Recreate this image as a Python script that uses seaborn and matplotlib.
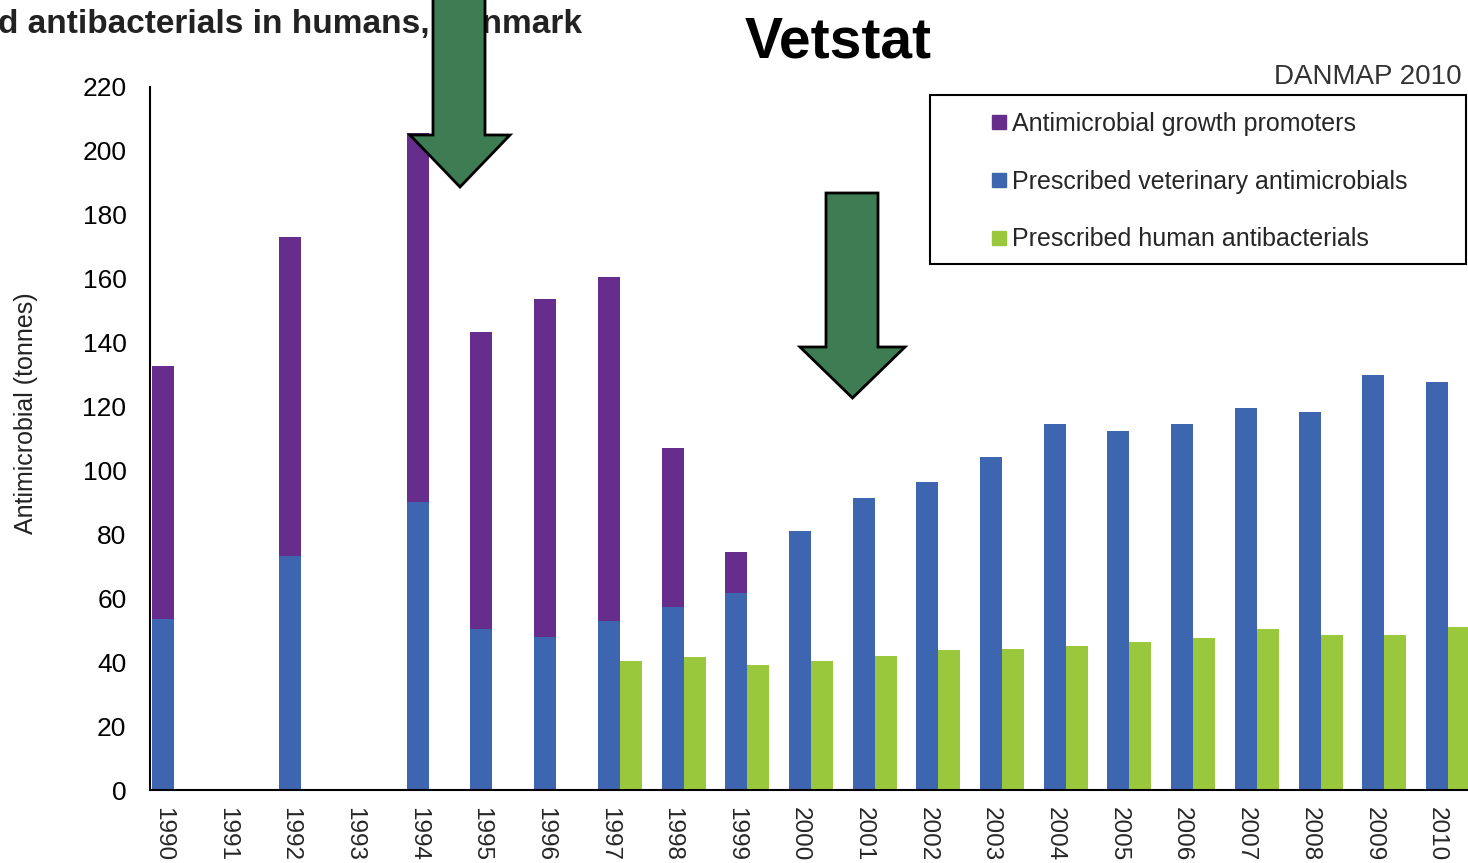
import numpy as np
import pandas as pd
import matplotlib
matplotlib.use("Agg")
import matplotlib.pyplot as plt
import seaborn as sns
from matplotlib.patches import Polygon, Rectangle
from matplotlib.lines import Line2D

# data (tonnes)
years = ["1990", "1991", "1992", "1993", "1994", "1995", "1996", "1997", "1998", "1999", "2000",
         "2001", "2002", "2003", "2004", "2005", "2006", "2007", "2008", "2009", "2010"]
nan = np.nan
vet_antimicrobials = [53.5, nan, 73.2, nan, 90.1, 50.4, 47.9, 52.9, 57.3, 61.7, 81.1,
                      91.4, 96.4, 104.2, 114.6, 112.4, 114.6, 119.6, 118.3, 129.9, 127.7]
growth_promoters = [79.2, nan, 99.8, nan, 115.5, 93.0, 105.8, 107.7, 49.7, 12.8, nan,
                    nan, nan, nan, nan, nan, nan, nan, nan, nan, nan]
human_antibacterials = [nan, nan, nan, nan, nan, nan, nan, 40.4, 41.6, 39.1, 40.4,
                        41.9, 43.8, 44.1, 45.1, 46.3, 47.6, 50.4, 48.5, 48.5, 51.0]

purple = "#662d8c"
blue = "#3e66b0"
green = "#9ac83c"
arrow_green = "#3e7c54"

sns.set_style("white")
plt.rcParams["font.family"] = ["Liberation Sans", "DejaVu Sans"]

W, H = 1468, 863
fig = plt.figure(figsize=(W / 100, H / 100), dpi=100)
ax = fig.add_axes([150 / W, 1 - 790 / H, 1318 / W, 703 / H])

vet = np.array(vet_antimicrobials)
agp = np.nan_to_num(np.array(growth_promoters))
total = vet + agp

# purple = vet + growth promoters, then blue vet drawn on top of it
df_total = pd.concat([
    pd.DataFrame({"year": years, "series": "vet", "value": total}),
    pd.DataFrame({"year": years, "series": "human", "value": human_antibacterials}),
], ignore_index=True)
df_vet = pd.concat([
    pd.DataFrame({"year": years, "series": "vet", "value": vet}),
    pd.DataFrame({"year": years, "series": "human", "value": human_antibacterials}),
], ignore_index=True)

common = dict(x="year", y="value", hue="series", hue_order=["vet", "human"], order=years,
              width=0.69, gap=0, dodge=True, saturation=1, legend=False,
              errorbar=None, linewidth=0, ax=ax)
sns.barplot(data=df_total, palette={"vet": purple, "human": green}, **common)
sns.barplot(data=df_vet, palette={"vet": blue, "human": green}, **common)

left = -0.376
ax.set_xlim(left, left + 1318 / 63.7)
ax.set_ylim(0, 220)
ax.set_yticks(range(0, 221, 20))
ax.tick_params(axis="y", labelsize=19, length=7, width=1.5, direction="out", colors="black", pad=10)

ax.set_xticks([i - 0.1725 for i in range(len(years))], years, rotation=270)
ax.set_xticks([left + k / 3 for k in range(63)], minor=True)
ax.tick_params(axis="x", which="major", length=0, labelsize=17.5, pad=12)
ax.tick_params(axis="x", which="minor", length=7, width=1.5, direction="out", color="black")
ax.set_xlabel("")
ax.set_ylabel("Antimicrobial (tonnes)", fontsize=18, color="#222222")
ax.yaxis.set_label_coords(-0.085, 0.536)

for side in ["top", "right"]:
    ax.spines[side].set_visible(False)
for side in ["left", "bottom"]:
    ax.spines[side].set_color("black")
    ax.spines[side].set_linewidth(1.5)

# header texts
fig.text(-2 / W, 1 - 33 / H, "d antibacterials in humans, Denmark", fontsize=24,
         fontweight="bold", color="#222222", ha="left", va="baseline", zorder=3)
fig.text(838 / W, 1 - 57 / H, "Vetstat", fontsize=41, fontweight="bold",
         color="black", ha="center", va="baseline", zorder=3)
fig.text(1462 / W, 1 - 84 / H, "DANMAP 2010", fontsize=20, color="#333333",
         ha="right", va="baseline")

# legend in a plain box
handles = [Line2D([], [], marker="s", linestyle="", markersize=10, color=c)
           for c in (purple, blue, green)]
labels = ["Antimicrobial growth promoters", "Prescribed veterinary antimicrobials",
          "Prescribed human antibacterials"]
fig.legend(handles, labels, loc="upper left", bbox_to_anchor=(990 / W, 1 - 112 / H),
           frameon=False, fontsize=18, handlelength=0.7, handletextpad=0.2,
           labelspacing=1.35, borderpad=0, borderaxespad=0)
fig.add_artist(Rectangle((930 / W, 1 - 264 / H), 536 / W, 169 / H, fill=False,
                         edgecolor="black", linewidth=1.5, transform=fig.transFigure))


# green down arrows
def down_arrow(x0, x1, top, neck, hx0, hx1, tip):
    xm = (hx0 + hx1) / 2
    pts = [(x0, top), (x1, top), (x1, neck), (hx1, neck), (xm, tip),
           (hx0, neck), (x0, neck)]
    pts = [(x / W, 1 - y / H) for x, y in pts]
    fig.add_artist(Polygon(pts, closed=True, facecolor=arrow_green, edgecolor="black",
                           linewidth=2, transform=fig.transFigure, zorder=10))


down_arrow(433, 485, -10, 135, 410, 510, 187)
down_arrow(826, 878, 193, 347, 800, 905, 398)

fig.savefig("out.png", dpi=100, facecolor="white")
